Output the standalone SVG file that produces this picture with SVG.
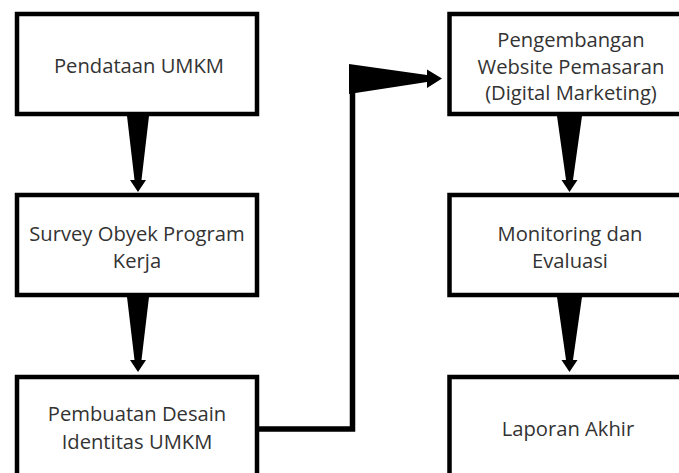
<svg xmlns="http://www.w3.org/2000/svg" width="679" height="473" viewBox="0 0 679 473">
<style>
.box{fill:#fff;stroke:#000;stroke-width:4.5}
.t{font-family:"Open Sans","Noto Sans","Liberation Sans",sans-serif;font-size:20.2px;fill:#333;text-anchor:middle}
.arr{fill:#000;stroke:none}
.ln{fill:none;stroke:#000;stroke-width:5.5}
</style>
<rect width="679" height="473" fill="#fff"/>
<g id="connectors">
<path class="arr" d="M127 116 L149 116 L141.5 180 L146 180 L138 192 L130 180 L134.5 180 Z"/>
<path class="arr" d="M127 297 L149 297 L141.5 360 L146 360 L138 372 L130 360 L134.5 360 Z"/>
<path class="arr" d="M557 116 L582 116 L573 180 L577.5 180 L569.5 192 L561.5 180 L566 180 Z"/>
<path class="arr" d="M557 297 L582 297 L573 360 L577.5 360 L569.5 372 L561.5 360 L566 360 Z"/>
<polyline class="ln" points="259,429 352.5,429 352.5,90"/>
<path class="arr" d="M349 64 L427 75 L427 69.5 L442 78.5 L427 88 L427 82 L349 94 Z"/>
</g>
<g id="n1"><rect class="box" x="17" y="14" width="240" height="100"/><text class="t" x="139" y="73">Pendataan UMKM</text></g>
<g id="n2"><rect class="box" x="17" y="195" width="240" height="100"/><text class="t" x="137" y="241">Survey Obyek Program</text><text class="t" x="137" y="268">Kerja</text></g>
<g id="n3"><rect class="box" x="17" y="377" width="240" height="120"/><text class="t" x="137" y="421">Pembuatan Desain</text><text class="t" x="137" y="449">Identitas UMKM</text></g>
<g id="n4"><rect class="box" x="449.5" y="14" width="260" height="100"/><text class="t" x="571" y="47">Pengembangan</text><text class="t" x="571" y="74">Website Pemasaran</text><text class="t" x="571" y="100">(Digital Marketing)</text></g>
<g id="n5"><rect class="box" x="449.5" y="195" width="260" height="100"/><text class="t" x="570" y="241">Monitoring dan</text><text class="t" x="570" y="268">Evaluasi</text></g>
<g id="n6"><rect class="box" x="449.5" y="377" width="260" height="120"/><text class="t" x="568" y="436">Laporan Akhir</text></g>
</svg>
